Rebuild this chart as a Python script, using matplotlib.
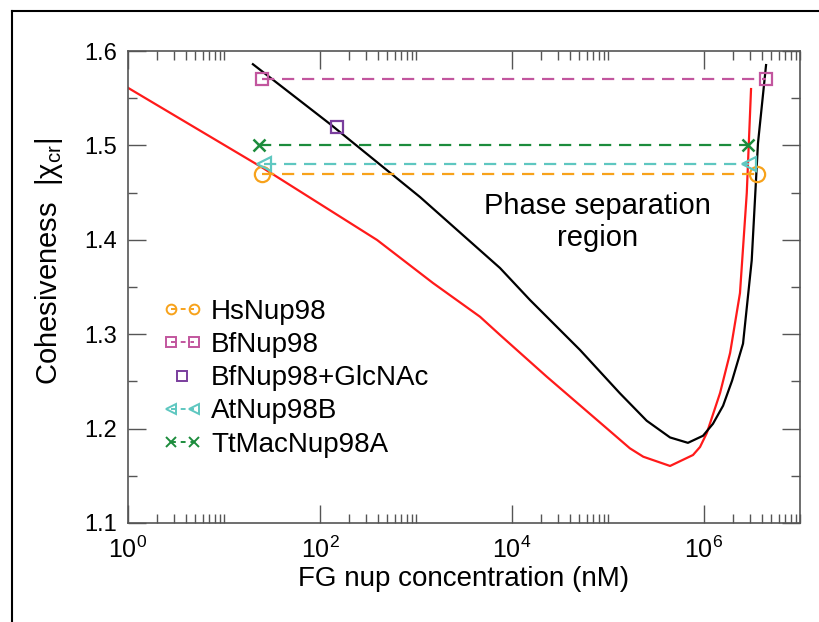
"""Critical cohesiveness vs FG nup concentration, with measured
cohesiveness of several Nup98 homologs drawn as dashed bars.
"""
import matplotlib.pyplot as plt
from matplotlib.legend_handler import HandlerLine2D
from matplotlib.lines import Line2D
from matplotlib.ticker import FixedLocator, MultipleLocator, NullFormatter

# red binodal curve (x in nM)
red_x = [1, 25.5, 393, 1503, 4640, 7500, 23000, 96900, 169000, 233000,
         443000, 768000, 909000, 1.07e6, 1.47e6, 1.87e6, 2.37e6, 2.79e6, 3.09e6]
red_y = [1.561, 1.476, 1.3998, 1.3542, 1.3185, 1.2992, 1.255, 1.2003, 1.1791,
         1.1702, 1.1604, 1.172, 1.1805, 1.1953, 1.2377, 1.2801, 1.3436,
         1.4496, 1.5597]

# black binodal curve
black_x = [20, 127, 1101, 7500, 15400, 51100, 133000, 253000, 443000, 680000,
           977000, 1.24e6, 1.58e6, 1.96e6, 2.55e6, 3.14e6, 3.65e6, 4.43e6]
black_y = [1.586, 1.5227, 1.4453, 1.3701, 1.3362, 1.2833, 1.2374, 1.2083,
           1.1906, 1.1849, 1.1924, 1.2051, 1.2242, 1.2507, 1.29, 1.3781,
           1.5023, 1.5851]

# homologs: (left, right) concentration and cohesiveness
hs_x = [25, 3.6e6]
hs_y = [1.47, 1.47]
bf_x = [25, 4.4e6]
bf_y = [1.57, 1.57]
glc_x = [150]
glc_y = [1.52]
at_x = [26, 2.95e6]
at_y = [1.48, 1.48]
tt_x = [23, 2.9e6]
tt_y = [1.50, 1.50]

x_ticks = [1, 1e2, 1e4, 1e6]
y_ticks = [1.1, 1.2, 1.3, 1.4, 1.5, 1.6]


def main():
    plt.rcParams["font.family"] = ["Liberation Sans", "DejaVu Sans"]
    plt.rcParams["mathtext.fontset"] = "custom"
    plt.rcParams["mathtext.rm"] = "Liberation Sans"
    plt.rcParams["mathtext.it"] = "Liberation Sans:italic"

    fig = plt.figure(figsize=(8.19, 6.22), dpi=100)
    ax = fig.add_axes([0.1563, 0.1592, 0.8205, 0.7588])

    # outer frame (top and left edges only visible)
    fig.add_artist(Line2D([11.5 / 819, 11.5 / 819], [0, 1 - 11.3 / 622],
                          transform=fig.transFigure, color="black", lw=1.5))
    fig.add_artist(Line2D([11.5 / 819, 1], [1 - 11.3 / 622, 1 - 11.3 / 622],
                          transform=fig.transFigure, color="black", lw=1.5))

    ax.plot(red_x, red_y, color="#ff1a1a", lw=1.6)
    ax.plot(black_x, black_y, color="black", lw=1.6)

    dash = (0, (5.5, 3.5))
    mk = dict(markeredgewidth=1.6, markerfacecolor="none")
    ax.plot(hs_x, hs_y, ls=dash, lw=1.6, color="#f7a21b", marker="o",
            markersize=11, **mk)
    ax.plot(bf_x, bf_y, ls=dash, lw=1.6, color="#c2569e", marker="s",
            markersize=9, **mk)
    ax.plot(glc_x, glc_y, ls="none", color="#7a3e9d", marker="s",
            markersize=9, **mk)
    ax.plot(at_x, at_y, ls=dash, lw=1.6, color="#5ec7c0", marker="<",
            markersize=10, **mk)
    ax.plot(tt_x, tt_y, ls=dash, lw=1.6, color="#1c8c3c", marker="x",
            markersize=8.5, markeredgewidth=1.8)

    ax.text(7.7e4, 1.419, "Phase separation\nregion", ha="center", va="center",
            fontsize=21, linespacing=1.2)

    # legend with small markers
    lk = dict(markersize=7, markeredgewidth=1.4, markerfacecolor="none",
              lw=1.4, ls=(0, (2.5, 2.5)))
    handles = [
        Line2D([], [], color="#f7a21b", marker="o", **lk),
        Line2D([], [], color="#c2569e", marker="s", **lk),
        Line2D([], [], color="#7a3e9d", marker="s", ls="none",
               markersize=7, markeredgewidth=1.4, markerfacecolor="none"),
        Line2D([], [], color="#5ec7c0", marker="<", **lk),
        Line2D([], [], color="#1c8c3c", marker="x", markersize=6.5,
               markeredgewidth=1.4, lw=1.4, ls=(0, (2.5, 2.5))),
    ]
    labels = ["HsNup98", "BfNup98", "BfNup98+GlcNAc", "AtNup98B", "TtMacNup98A"]
    ax.legend(handles, labels, loc="upper left", bbox_to_anchor=(0.051, 0.475),
              frameon=False, fontsize=20, numpoints=2, handlelength=1.45,
              handletextpad=0.3, labelspacing=0.26, borderpad=0,
              borderaxespad=0,
              handler_map={handles[2]: HandlerLine2D(numpoints=1)})

    ax.set_xscale("log")
    ax.set_xlim(1, 1e7)
    ax.set_ylim(1.1, 1.6)
    ax.set_xticks(x_ticks)
    # minor ticks only in the decades that start at a labelled tick
    minors = [k * 10.0 ** e for e in (0, 2, 4, 6) for k in range(2, 11)]
    ax.xaxis.set_minor_locator(FixedLocator(minors))
    ax.xaxis.set_minor_formatter(NullFormatter())
    ax.set_yticks(y_ticks)
    ax.set_yticklabels([f"{v:.1f}" for v in y_ticks])
    ax.yaxis.set_minor_locator(MultipleLocator(0.05))

    ax.tick_params(which="both", direction="in", top=True, right=True,
                   color="#555555")
    ax.tick_params(which="major", length=13, width=1.0)
    ax.tick_params(which="minor", length=6.5, width=1.0)
    ax.tick_params(axis="x", which="major", labelsize=18, pad=10)
    ax.tick_params(axis="y", which="major", labelsize=17, pad=8)
    for sp in ax.spines.values():
        sp.set_color("#555555")
        sp.set_linewidth(1.2)

    ax.set_xlabel("FG nup concentration (nM)", fontsize=20, labelpad=2)
    ax.set_ylabel("Cohesiveness  |χ$_{\\mathrm{cr}}$|", fontsize=21)
    ax.yaxis.set_label_coords(-0.094, 0.553)

    fig.savefig("out.png", dpi=100)


if __name__ == "__main__":
    main()
